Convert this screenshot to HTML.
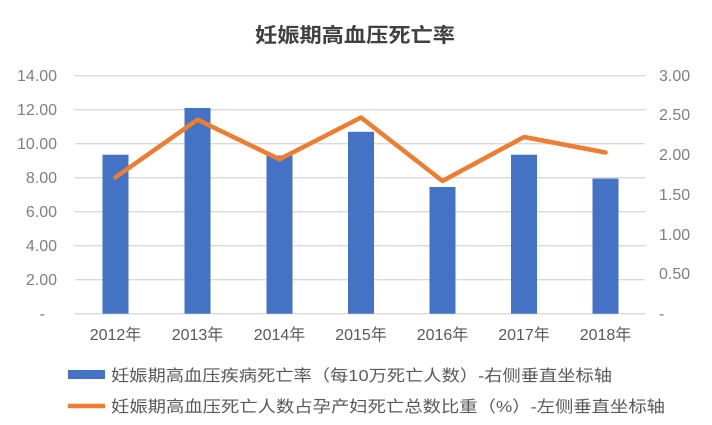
<!DOCTYPE html>
<html><head><meta charset="utf-8"><style>
body{margin:0;background:#fff;}
svg{display:block;font-family:"Liberation Sans","Noto Sans CJK SC",sans-serif;}
</style></head><body>
<svg width="712" height="425" xmlns="http://www.w3.org/2000/svg">
<rect width="712" height="425" fill="#fff"/>
<text x="255" y="42" font-size="20" font-weight="bold" fill="#404040" textLength="200" lengthAdjust="spacingAndGlyphs">妊娠期高血压死亡率</text>
<g stroke="#d9d9d9" stroke-width="1.3">
<line x1="75" x2="645" y1="75.7" y2="75.7"/><line x1="75" x2="645" y1="109.7" y2="109.7"/>
<line x1="75" x2="645" y1="143.7" y2="143.7"/><line x1="75" x2="645" y1="177.7" y2="177.7"/>
<line x1="75" x2="645" y1="211.7" y2="211.7"/><line x1="75" x2="645" y1="245.7" y2="245.7"/>
<line x1="75" x2="645" y1="279.7" y2="279.7"/><line x1="75" x2="645" y1="313.7" y2="313.7"/>
</g>
<g font-size="16" fill="#7f7f7f" text-anchor="end">
<text x="57" y="81">14.00</text><text x="57" y="115">12.00</text><text x="57" y="149">10.00</text>
<text x="57" y="183">8.00</text><text x="57" y="217">6.00</text><text x="57" y="251">4.00</text>
<text x="57" y="285">2.00</text><text x="45" y="319">-</text>
</g>
<g font-size="16" fill="#7f7f7f" text-anchor="start">
<text x="659" y="81">3.00</text><text x="659" y="120">2.50</text><text x="659" y="160">2.00</text>
<text x="659" y="200">1.50</text><text x="659" y="240">1.00</text><text x="659" y="279">0.50</text>
<text x="659" y="319">-</text>
</g>
<g fill="#4472c4">
<rect x="102.5" y="154.7" width="26" height="159"/>
<rect x="184.5" y="108" width="26" height="205.7"/>
<rect x="266.5" y="155.5" width="26" height="158.2"/>
<rect x="348" y="131.8" width="26" height="181.9"/>
<rect x="429.5" y="187" width="26" height="126.7"/>
<rect x="511" y="154.7" width="26" height="159"/>
<rect x="592.5" y="178.6" width="26" height="135.1"/>
</g>
<polyline fill="none" stroke="#ed7d31" stroke-width="4.5" stroke-linejoin="round" stroke-linecap="round"
points="115.5,177.3 197.5,119.7 279.5,159.3 361,117.5 442.5,181 524,137 605.5,152.5"/>
<g font-size="16" fill="#595959" text-anchor="middle">
<text x="115.5" y="340">2012年</text><text x="197.5" y="340">2013年</text><text x="279.5" y="340">2014年</text>
<text x="361" y="340">2015年</text><text x="442.5" y="340">2016年</text><text x="524" y="340">2017年</text>
<text x="605.5" y="340">2018年</text>
</g>
<rect x="68" y="370" width="37" height="9" fill="#4472c4"/>
<text x="111" y="381" font-size="16" fill="#595959" textLength="501" lengthAdjust="spacingAndGlyphs">妊娠期高血压疾病死亡率（每10万死亡人数）-右侧垂直坐标轴</text>
<line x1="68" x2="105" y1="406" y2="406" stroke="#ed7d31" stroke-width="4.5"/>
<text x="111" y="412" font-size="16" fill="#595959" textLength="554" lengthAdjust="spacingAndGlyphs">妊娠期高血压死亡人数占孕产妇死亡总数比重（%）-左侧垂直坐标轴</text>
</svg>
</body></html>
